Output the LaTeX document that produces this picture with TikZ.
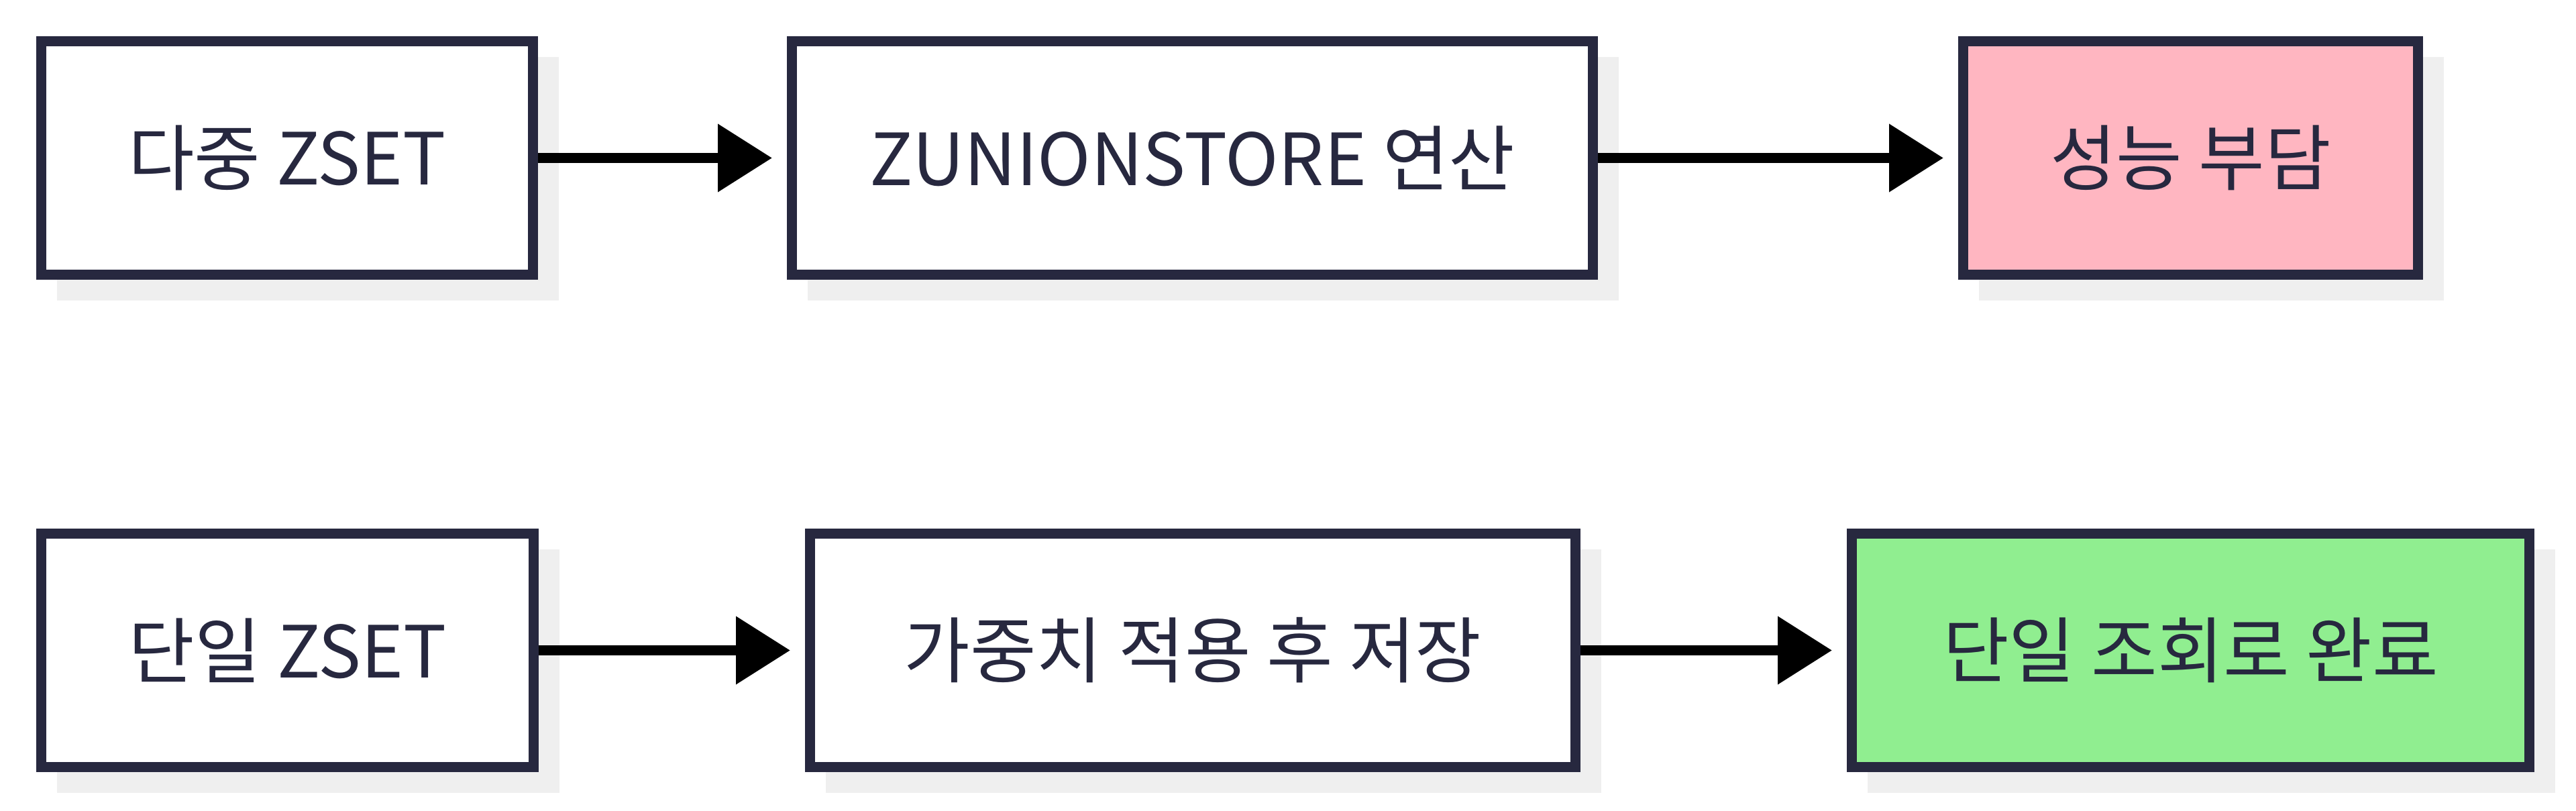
\documentclass[tikz,border=0pt]{standalone}
\usepackage{fontspec}
\setmainfont{Noto Sans CJK KR}
\usepackage{tikz}
\usetikzlibrary{arrows.meta,positioning,shadows}
\definecolor{ink}{HTML}{27283F}
\definecolor{shadowgray}{HTML}{EFEFEF}
\definecolor{slowfill}{HTML}{FFB6C1}
\definecolor{fastfill}{HTML}{90EE90}
\tikzset{
  every node/.style={font=\fontsize{30.5}{36}\selectfont, text=ink},
  flow/.style={-{Triangle[length=8.1mm,width=9.8mm]}, draw=black,
    line width=1.5mm, shorten >=2.2mm},
  box/.style={rectangle, draw=ink, fill=white, line width=1.5mm,
    minimum height=34.8mm, inner sep=0pt,
    drop shadow={shadow xshift=3.1mm, shadow yshift=-3.1mm,
      fill=shadowgray, draw=shadowgray, opacity=1}},
  slow/.style={box, fill=slowfill},
  fast/.style={box, fill=fastfill}
}
\begin{document}
\begin{tikzpicture}[x=1cm,y=1cm]
  \useasboundingbox (0,0) rectangle (38.4,12.08);

  % Top row: several ZSETs merged on every request.
  \node[box, minimum width=73.3mm] (multi) at (4.28,9.725) {다중 ZSET};
  \node[box, minimum width=119.4mm] (union) at (17.775,9.725) {ZUNIONSTORE 연산};
  \node[slow, minimum width=67.8mm] (load) at (32.655,9.725) {성능 부담};
  \draw[flow] (multi) -- (union);
  \draw[flow] (union) -- (load);

  % Bottom row: one pre-weighted ZSET.
  \node[box, minimum width=73.4mm] (single) at (4.285,2.385) {단일 ZSET};
  \node[box, minimum width=114.1mm] (weighted) at (17.78,2.385) {가중치 적용 후 저장};
  \node[fast, minimum width=101.0mm] (done) at (32.655,2.385) {단일 조회로 완료};
  \draw[flow] (single) -- (weighted);
  \draw[flow] (weighted) -- (done);
\end{tikzpicture}
\end{document}
